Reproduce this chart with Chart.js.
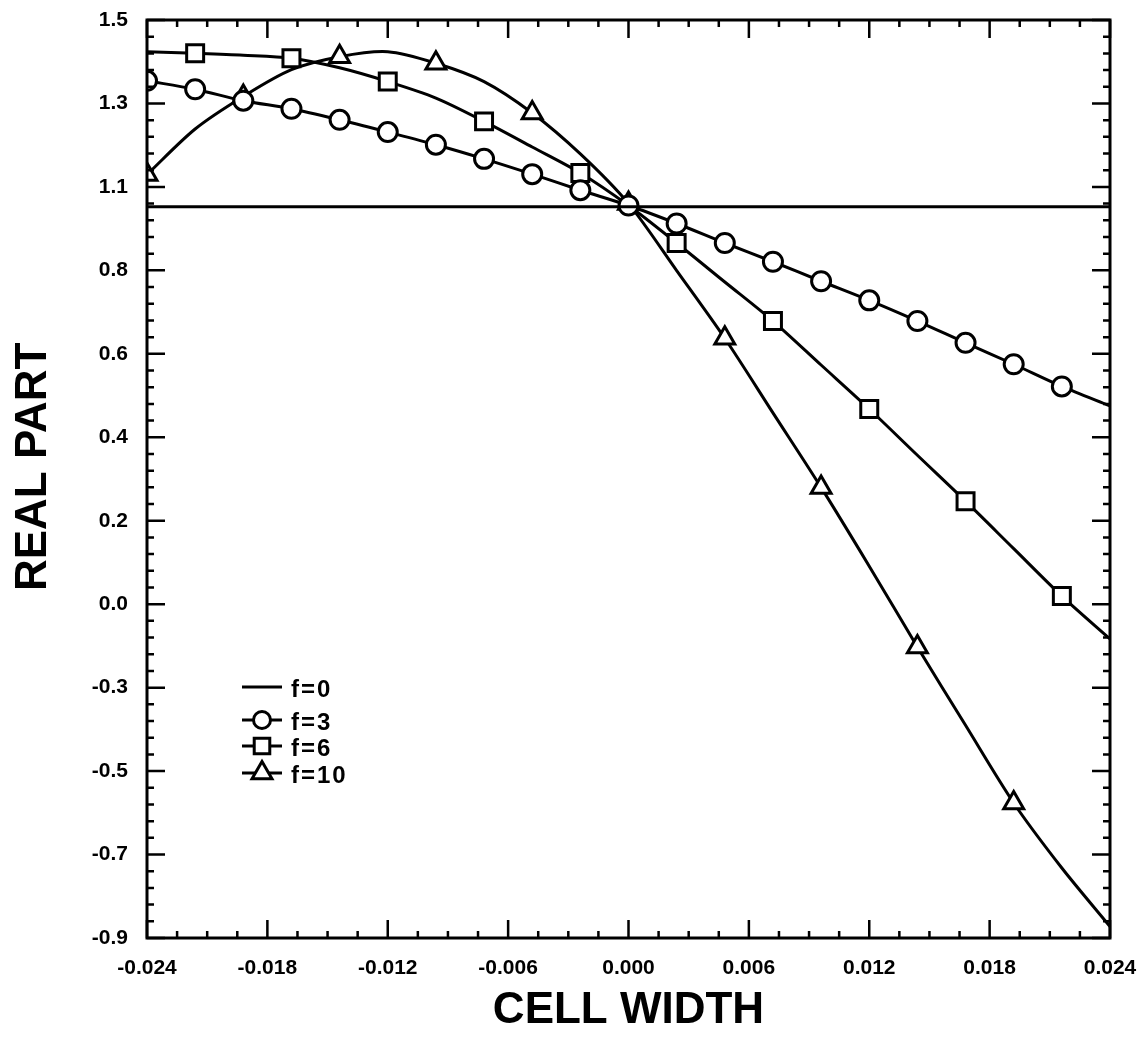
<!DOCTYPE html>
<html>
<head>
<meta charset="utf-8">
<script src="https://cdn.jsdelivr.net/npm/chart.js@4.4.1/dist/chart.umd.min.js"></script>
<style>
  html, body { margin: 0; padding: 0; background: #fff; }
  canvas { display: block; }
</style>
</head>
<body>
<canvas id="chart" width="1146" height="1037"></canvas>
<script>
// cell width samples (markers sit on every one or every other one)
const cellWidth = [-0.024, -0.0216, -0.0192, -0.0168, -0.0144, -0.012, -0.0096, -0.0072, -0.0048, -0.0024,
  0, 0.0024, 0.0048, 0.0072, 0.0096, 0.012, 0.0144, 0.0168, 0.0192, 0.0216, 0.024];

const realF0 = [1.012, 1.012, 1.012, 1.012, 1.012, 1.012, 1.012, 1.012, 1.012, 1.012,
  1.012, 1.012, 1.012, 1.012, 1.012, 1.012, 1.012, 1.012, 1.012, 1.012, 1.012];
const realF3 = [1.341, 1.319, 1.289, 1.268, 1.239, 1.207, 1.174, 1.137, 1.097, 1.055,
  1.015, 0.968, 0.917, 0.868, 0.817, 0.767, 0.713, 0.656, 0.600, 0.542, 0.491];
const realF6 = [1.417, 1.413, 1.408, 1.400, 1.375, 1.339, 1.296, 1.235, 1.168, 1.100,
  1.015, 0.917, 0.815, 0.713, 0.598, 0.483, 0.362, 0.242, 0.118, -0.006, -0.118];
const realF10 = [1.096, 1.215, 1.300, 1.370, 1.404, 1.417, 1.387, 1.339, 1.257, 1.150,
  1.020, 0.845, 0.668, 0.473, 0.278, 0.072, -0.139, -0.344, -0.547, -0.717, -0.870];

const seriesNames = ['f=0', 'f=3', 'f=6', 'f=10'];
const xTickValues = [-0.024, -0.018, -0.012, -0.006, 0, 0.006, 0.012, 0.018, 0.024];
const yTickLabels = ['-0.9', '-0.7', '-0.5', '-0.3', '0.0', '0.2', '0.4', '0.6', '0.8', '1.1', '1.3', '1.5'];
const yMin = -0.9, yMax = 1.5;

const FONT = '"Liberation Sans", Arial, Helvetica, sans-serif';
const pts = arr => arr.map((v, i) => ({ x: cellWidth[i], y: v }));

function drawMarker(ctx, style, x, y, r) {
  ctx.beginPath();
  if (style === 'circle') {
    ctx.arc(x, y, r, 0, Math.PI * 2);
  } else if (style === 'rect') {
    const s = r * Math.SQRT1_2;
    ctx.rect(x - s, y - s, 2 * s, 2 * s);
  } else if (style === 'triangle') {
    ctx.moveTo(x, y - r);
    ctx.lineTo(x + r * Math.sin(Math.PI / 3), y + r / 2);
    ctx.lineTo(x - r * Math.sin(Math.PI / 3), y + r / 2);
    ctx.closePath();
  }
  ctx.fill();
  ctx.stroke();
}

// frame + inward ticks on all four sides
const frameTicks = {
  id: 'frameTicks',
  afterDatasetsDraw(chart) {
    const { ctx, chartArea: a, scales: { x, y } } = chart;
    ctx.save();
    ctx.strokeStyle = '#000';
    ctx.lineWidth = 3;
    ctx.strokeRect(a.left, a.top, a.right - a.left, a.bottom - a.top);
    ctx.lineWidth = 2.5;
    ctx.beginPath();
    for (let i = 0; i <= 32; i++) {
      const px = x.getPixelForValue(-0.024 + i * 0.0015);
      const len = i % 4 === 0 ? 18 : 7;
      ctx.moveTo(px, a.bottom); ctx.lineTo(px, a.bottom - len);
      ctx.moveTo(px, a.top); ctx.lineTo(px, a.top + len);
    }
    const n = (yTickLabels.length - 1) * 5;
    for (let i = 0; i <= n; i++) {
      const py = y.getPixelForValue(yMin + i * (yMax - yMin) / n);
      const len = i % 5 === 0 ? 18 : 7;
      ctx.moveTo(a.left, py); ctx.lineTo(a.left + len, py);
      ctx.moveTo(a.right, py); ctx.lineTo(a.right - len, py);
    }
    ctx.stroke();
    ctx.restore();
  }
};

// legend in the lower left of the plot
const innerLegend = {
  id: 'innerLegend',
  afterDraw(chart) {
    const ctx = chart.ctx;
    const rows = [687, 720, 746, 773];
    ctx.save();
    chart.data.datasets.forEach((ds, i) => {
      const y = rows[i];
      ctx.strokeStyle = '#000';
      ctx.fillStyle = '#fff';
      ctx.lineWidth = 3;
      ctx.beginPath();
      ctx.moveTo(242, y); ctx.lineTo(282, y);
      ctx.stroke();
      if (ds.legendStyle) drawMarker(ctx, ds.legendStyle, 262, y, ds.legendRadius);
      ctx.fillStyle = '#000';
      ctx.font = 'bold 24px ' + FONT;
      ctx.letterSpacing = '2px';
      ctx.textBaseline = 'middle';
      ctx.textAlign = 'left';
      ctx.fillText(ds.label, 291, y + 3);
    });
    ctx.restore();
  }
};

const lineBase = {
  borderColor: '#000',
  borderWidth: 3,
  pointBackgroundColor: '#fff',
  pointBorderColor: '#000',
  pointBorderWidth: 3,
  tension: 0.3,
  fill: false
};

new Chart(document.getElementById('chart'), {
  type: 'line',
  data: {
    datasets: [
      Object.assign({}, lineBase, { label: seriesNames[0], data: pts(realF0), pointRadius: 0, tension: 0 }),
      Object.assign({}, lineBase, {
        label: seriesNames[1], data: pts(realF3), pointStyle: 'circle',
        pointRadius: c => (c.dataIndex < 20 ? 9.5 : 0),
        legendStyle: 'circle', legendRadius: 8.5
      }),
      Object.assign({}, lineBase, {
        label: seriesNames[2], data: pts(realF6), pointStyle: 'rect',
        pointRadius: c => (c.dataIndex % 2 === 1 ? 12 : 0),
        legendStyle: 'rect', legendRadius: 11
      }),
      Object.assign({}, lineBase, {
        label: seriesNames[3], data: pts(realF10), pointStyle: 'triangle',
        pointRadius: c => (c.dataIndex % 2 === 0 && c.dataIndex < 20 ? 11.5 : 0),
        legendStyle: 'triangle', legendRadius: 11.5
      })
    ]
  },
  options: {
    responsive: false,
    devicePixelRatio: 1,
    animation: false,
    layout: { padding: { top: 20, right: 36, left: 0, bottom: 0 } },
    plugins: { legend: { display: false }, tooltip: { enabled: false } },
    scales: {
      x: {
        type: 'linear',
        min: -0.024,
        max: 0.024,
        afterFit: s => { s.height = 99; s.paddingLeft = 0; s.paddingRight = 0; },
        afterBuildTicks: s => { s.ticks = xTickValues.map(v => ({ value: v })); },
        grid: { display: false, drawTicks: false },
        border: { display: false },
        ticks: {
          autoSkip: false,
          maxRotation: 0,
          padding: 18,
          color: '#000',
          font: { family: FONT, size: 21, weight: 'bold' },
          callback: v => (Math.abs(v) < 1e-9 ? '0.000' : v.toFixed(3))
        },
        title: {
          display: true,
          text: 'CELL WIDTH',
          color: '#000',
          padding: { top: 0, bottom: 0 },
          font: { family: FONT, size: 44, weight: 'bold' }
        }
      },
      y: {
        type: 'linear',
        min: yMin,
        max: yMax,
        afterFit: s => { s.width = 147; s.paddingTop = 0; s.paddingBottom = 0; },
        afterBuildTicks: s => {
          s.ticks = yTickLabels.map((_, i) => ({ value: yMin + i * (yMax - yMin) / (yTickLabels.length - 1) }));
        },
        grid: { display: false, drawTicks: false },
        border: { display: false },
        ticks: {
          autoSkip: false,
          padding: 19,
          color: '#000',
          font: { family: FONT, size: 21, weight: 'bold' },
          callback: (v, i) => yTickLabels[i]
        },
        title: {
          display: true,
          text: '  REAL PART',
          color: '#000',
          padding: { top: 7, bottom: 0 },
          font: { family: FONT, size: 44, weight: 'bold' }
        }
      }
    }
  },
  plugins: [frameTicks, innerLegend]
});
</script>
</body>
</html>
